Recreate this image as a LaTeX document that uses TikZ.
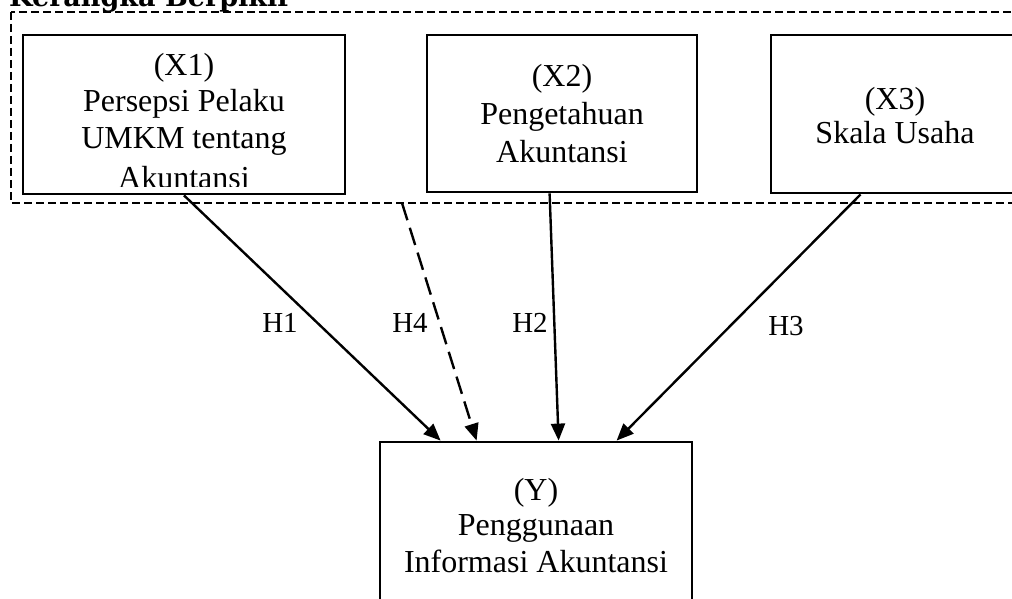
\documentclass[tikz,border=0pt]{standalone}
\usepackage{fontspec}
\setmainfont{Liberation Serif}
\newfontfamily\titlefont{DejaVu Serif}
\usetikzlibrary{arrows.meta,calc}
\tikzset{
  box/.style={draw, line width=2.8pt, rectangle, inner sep=0pt},
  txt/.style={anchor=base, inner sep=0pt, font=\fontsize{32}{37}\selectfont},
  hlab/.style={anchor=base, inner sep=0pt, font=\fontsize{29}{34}\selectfont},
  frame/.style={draw, line width=2.4pt, dash pattern=on 8pt off 4pt},
  arr/.style={line width=2.4pt, -{Triangle[length=17pt,width=14pt]}},
}
\begin{document}
\begin{tikzpicture}[x=1pt,y=-1pt]
\useasboundingbox (0,0) rectangle (1012,599);
\clip (0,0) rectangle (1012,599);
% title
\node[anchor=base west, inner sep=0pt, font=\titlefont\bfseries\fontsize{27}{30}\selectfont] (title) at (9,7) {Kerangka Berpikir};
% dashed frame
\draw[frame] (11,12) rectangle (1040,203);
\coordinate (h4s) at (402,203);
% boxes
\node[box, minimum width=322pt, minimum height=159pt] (x1) at (184,114.5) {};
\node[box, minimum width=270pt, minimum height=157pt] (x2) at (562,113.5) {};
\node[box, minimum width=300pt, minimum height=158pt] (x3) at (921,114) {};
\node[box, minimum width=312pt, minimum height=200pt] (y) at (536,542) {};
% texts X1
\node[txt] (x1a) at (184,76) {(X1)};
\node[txt] (x1b) at (184,112) {Persepsi Pelaku};
\node[txt] (x1c) at (184,149) {UMKM tentang};
\begin{scope}
\clip (24,36) rectangle (344,186);
\node[txt] (x1d) at (184,188) {Akuntansi};
\end{scope}
% texts X2
\node[txt] (x2a) at (562,87) {(X2)};
\node[txt] (x2b) at (562,125) {Pengetahuan};
\node[txt] (x2c) at (562,163) {Akuntansi};
% texts X3
\node[txt] (x3a) at (895,110) {(X3)};
\node[txt] (x3b) at (895,144) {Skala Usaha};
% texts Y
\node[txt] (ya) at (536,500) {(Y)};
\node[txt] (yb) at (536,535) {Penggunaan};
\node[txt] (yc) at (536,572) {Informasi Akuntansi};
% arrows
\draw[arr] (x1.south) -- ($(y.north west)+(62,0)$);
\draw[arr, dash pattern=on 18pt off 8pt] (h4s) -- ($(y.north west)+(98,0)$);
\draw[arr] ($(x2.south west)+(124,0)$) -- ($(y.north west)+(180,0)$);
\draw[arr] ($(x3.south west)+(91,0)$) -- ($(y.north west)+(238,0)$);
% labels
\node[hlab] (h1) at (280,332) {H1};
\node[hlab] (h4) at (410,332) {H4};
\node[hlab] (h2) at (530,332) {H2};
\node[hlab] (h3) at (786,335) {H3};
\end{tikzpicture}
\end{document}
